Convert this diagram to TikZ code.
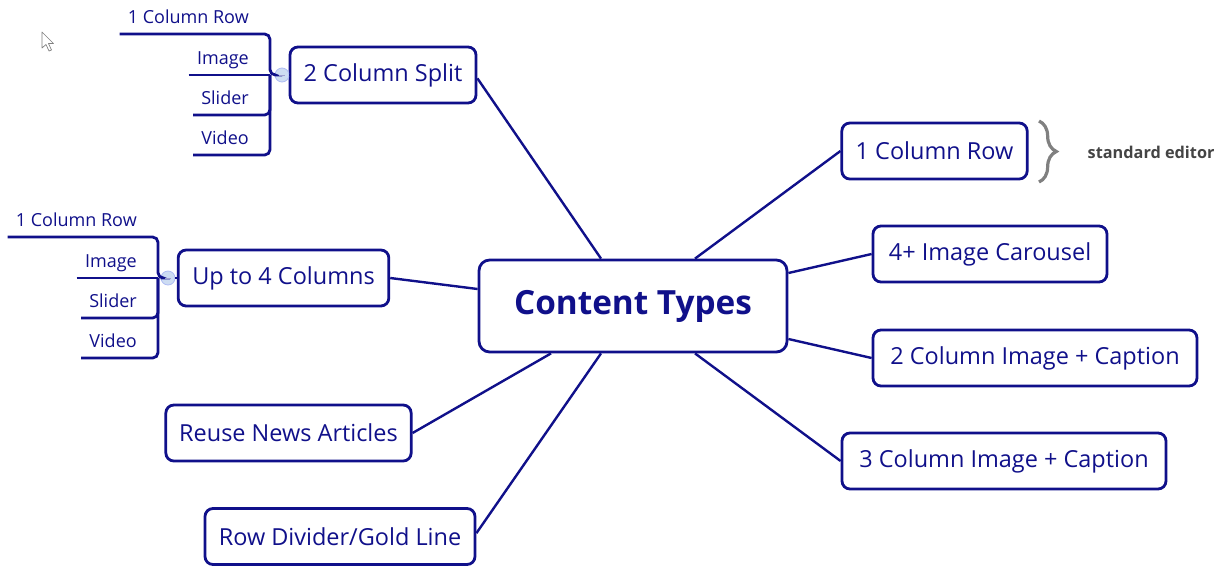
\documentclass[tikz,border=0pt]{standalone}
\usepackage{fontspec}
\setmainfont{Open Sans}
\usetikzlibrary{positioning, decorations.pathreplacing}
\definecolor{mapblue}{RGB}{16,16,138}
\definecolor{knobblue}{RGB}{205,220,242}
\definecolor{notegray}{RGB}{68,68,68}

\begin{document}
\begin{tikzpicture}[
  x=0.75pt, y=-0.75pt,
  topic/.style={rectangle, rounded corners=6pt, draw=mapblue, line width=2.1pt, text=mapblue, font=\fontsize{17.6}{20}\selectfont, minimum height=42pt, inner xsep=8pt},
  central/.style={topic, rounded corners=8pt, font=\fontsize{25}{30}\selectfont\bfseries, minimum width=231pt, minimum height=69pt},
  item/.style={anchor=south east, text=mapblue, font=\fontsize{13.5}{16}\selectfont, inner xsep=6pt, inner ysep=8pt, text depth=0pt},
  branch/.style={draw=mapblue, line width=2.1pt, rounded corners=4pt},
  link/.style={draw=mapblue, line width=1.8pt},
  knob/.style={circle, fill=knobblue, draw=knobblue!85!blue, line width=0.6pt, minimum size=10.5pt, inner sep=0pt},
]
\useasboundingbox (0,0) rectangle (1223,565);

% Central topic
\node[central] (ct) at (633,306) {Content Types};

% Main topics
\node[topic, minimum width=139.5pt] (split) at (383,75) {2 Column Split};
\node[topic, minimum width=158pt] (upto) at (283.5,278) {Up to 4 Columns};
\node[topic, minimum width=184pt] (reuse) at (288.5,433) {Reuse News Articles};
\node[topic, minimum width=202.5pt] (divider) at (340,536.5) {Row Divider/Gold Line};
\node[topic, minimum width=139pt] (onerow) at (934.5,151) {1 Column Row};
\node[topic, minimum width=175.5pt] (carousel) at (990,254) {4+ Image Carousel};
\node[topic, minimum width=243pt] (twoimg) at (1035,358) {2 Column Image + Caption};
\node[topic, minimum width=243pt] (threeimg) at (1004,461) {3 Column Image + Caption};

% Connections
\draw[link] ([xshift=-24pt]ct.north) -- ([yshift=-2.5pt]split.east);
\draw[link] ([yshift=12.75pt]ct.west) -- (upto.east);
\draw[link] ([xshift=-61.5pt]ct.south) -- (reuse.east);
\draw[link] ([xshift=-24pt]ct.south) -- ([yshift=2.5pt]divider.east);
\draw[link] ([xshift=46.5pt]ct.north) -- (onerow.west);
\draw[link] ([yshift=24.75pt]ct.east) -- (carousel.west);
\draw[link] ([yshift=-24.75pt]ct.east) -- (twoimg.west);
\draw[link] ([xshift=46.5pt]ct.south) -- (threeimg.west);

% Subtopics of 2 Column Split
\coordinate (sj) at (270,75);
\node[knob] (sknob) at (282,75) {};
\node[item] (srow) at (257,34) {1 Column Row};
\node[item] (simg) at (257,75) {Image};
\node[item] (sslide) at (257,115) {Slider};
\node[item] (svid) at (257,155) {Video};
\draw[branch] (srow.south west) -| (sj) -- (sknob);
\draw[branch] (simg.south west) -- (sj);
\draw[branch] (sslide.south west) -| (sj);
\draw[branch] (svid.south west) -| (sj);
\draw[link] (sknob) -- (split.west);
\draw[mapblue!40, line width=0.6pt] ([xshift=-2.5pt]sknob.center) -- ([xshift=2.5pt]sknob.center);

% Subtopics of Up to 4 Columns
\coordinate (uj) at (158,278);
\node[knob] (uknob) at (168,278) {};
\node[item] (urow) at (145,237) {1 Column Row};
\node[item] (uimg) at (145,278) {Image};
\node[item] (uslide) at (145,318) {Slider};
\node[item] (uvid) at (145,358) {Video};
\draw[branch] (urow.south west) -| (uj) -- (uknob);
\draw[branch] (uimg.south west) -- (uj);
\draw[branch] (uslide.south west) -| (uj);
\draw[branch] (uvid.south west) -| (uj);
\draw[link] (uknob) -- (upto.west);
\draw[mapblue!40, line width=0.6pt] ([xshift=-2.5pt]uknob.center) -- ([xshift=2.5pt]uknob.center);

% Note on 1 Column Row
\coordinate (btop) at (1039,121);
\coordinate (bbot) at (1039,182);
\draw[gray, line width=2.4pt, decorate, decoration={brace, amplitude=13pt}] (btop) -- (bbot);
\node[font=\fontsize{12.2}{14}\selectfont\bfseries, text=notegray, anchor=west] (note) at (1083,152) {standard editor};

% Pointer
\draw[gray, fill=white, line width=0.5pt, line join=round] (42,32) -- (42,48) -- (46,44.5) -- (49,51) -- (51.5,50) -- (48.5,43.5) -- (53.5,43.5) -- cycle;

\end{tikzpicture}
\end{document}
